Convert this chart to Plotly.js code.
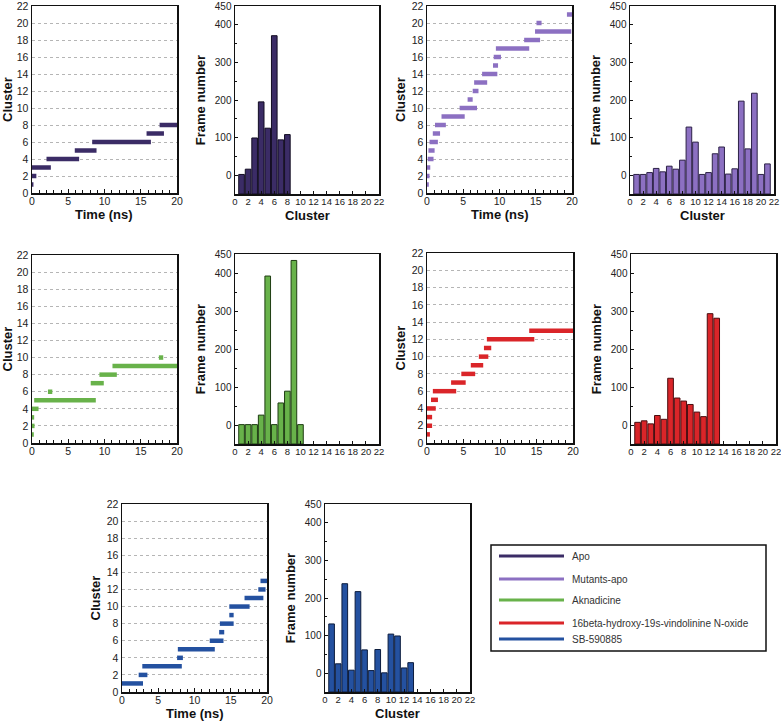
<!DOCTYPE html>
<html>
<head>
<meta charset="utf-8">
<script src="https://cdn.plot.ly/plotly-3.0.1.min.js"></script>
<style>html,body{margin:0;padding:0;background:#fff}#chart{width:781px;height:721px}</style>
</head>
<body>
<div id="chart"></div>
<script>
// ---------- DATA ----------
const seriesNames = ["Apo", "Mutants-apo", "Aknadicine", "16beta-hydroxy-19s-vindolinine N-oxide", "SB-590885"];
const seriesColors = ["#3b2c66", "#8c70c2", "#68b24a", "#da2529", "#2451a0"];
const barEdgeColors = ["#120c22", "#2c2147", "#1e3d12", "#4a0d0f", "#0d1d3e"];

// Apo
const apoCluster = [1, 2, 3, 4, 5, 6, 7, 8];
const apoStart   = [0, 0, 0, 2.0, 5.9, 8.3, 15.8, 17.6];
const apoEnd     = [0.2, 0.6, 2.6, 6.5, 8.9, 16.4, 18.2, 20];
const apoFrames  = [2, 16, 99, 195, 125, 371, 94, 108];

// Mutants-apo
const mutCluster = [1, 2, 3, 4, 5, 6, 7, 8, 9, 10, 11, 12, 13, 14, 15, 16, 17, 18, 19, 20, 21];
const mutStart   = [0, 0, 0, 0.1, 0.2, 0.35, 0.8, 1.1, 2.0, 4.5, 5.6, 6.3, 6.5, 7.6, 9.1, 9.2, 9.5, 13.4, 14.9, 15.1, 19.3];
const mutEnd     = [0.25, 0.35, 0.45, 0.9, 1.05, 1.5, 1.8, 2.6, 5.2, 6.9, 6.3, 7.1, 8.3, 9.7, 9.8, 10.2, 14.1, 15.6, 19.9, 15.8, 20];
const mutFrames  = [2, 2, 7, 18, 9, 24, 16, 40, 128, 88, 2, 7, 57, 75, 3, 17, 197, 70, 218, 2, 30];

// Aknadicine
const akCluster = [1, 2, 3, 4, 5, 6, 7, 8, 9, 10];
const akStart   = [0, 0, 0, 0, 0.3, 2.2, 8.1, 9.3, 11.1, 17.5];
const akEnd     = [0.25, 0.35, 0.3, 0.9, 8.8, 2.8, 9.9, 11.7, 20, 18.1];
const akFrames  = [1, 1, 1, 26, 392, 1, 58, 89, 433, 1];

// 16beta-hydroxy-19s-vindolinine N-oxide
const hvCluster = [1, 2, 3, 4, 5, 6, 7, 8, 9, 10, 11, 12, 13];
const hvStart   = [0, 0, 0, 0, 0.55, 0.8, 3.3, 4.7, 6.0, 7.1, 7.8, 8.2, 14.0];
const hvEnd     = [0.4, 0.7, 0.7, 1.2, 1.5, 4.0, 5.3, 6.6, 7.7, 8.4, 8.8, 14.7, 20];
const hvFrames  = [7, 11, 3, 25, 15, 123, 71, 63, 54, 34, 22, 293, 281];

// SB-590885
const sbCluster = [1, 2, 3, 4, 5, 6, 7, 8, 9, 10, 11, 12, 13];
const sbStart   = [0, 2.3, 2.8, 7.6, 7.7, 12.1, 13.4, 13.5, 14.8, 14.8, 16.9, 18.8, 19.1];
const sbEnd     = [2.9, 3.5, 8.25, 8.4, 12.8, 14.0, 14.1, 15.4, 15.4, 17.6, 19.5, 19.8, 20];
const sbFrames  = [131, 25, 238, 8, 217, 62, 7, 63, 1, 104, 99, 14, 28];

const timeTicks = [0, 5, 10, 15, 20];
const clusterTicks = [0, 2, 4, 6, 8, 10, 12, 14, 16, 18, 20, 22];
const frameTicks = [0, 100, 200, 300, 400, 450];

// ---------- LAYOUT HELPERS ----------
const W = 781, H = 721;
const FONT = "Liberation Sans, Arial, sans-serif";
const HIST_BASE = -50;
function dx(a, b) { return [a / W, b / W]; }
function dy(a, b) { return [1 - b / H, 1 - a / H]; }

// panel pixel boxes [left, right, top, bottom]
const panels = [
  {kind: "t", s: 0, box: [32, 177, 6, 193], xt: true},
  {kind: "h", s: 0, box: [235, 379, 6, 194], xt: true},
  {kind: "t", s: 1, box: [427, 572, 6, 193], xt: true},
  {kind: "h", s: 1, box: [630, 774, 6, 194], xt: true},
  {kind: "t", s: 2, box: [32, 177, 255, 443], xt: false},
  {kind: "h", s: 2, box: [235, 379, 254, 444], xt: false},
  {kind: "t", s: 3, box: [427, 573, 253, 443], xt: false},
  {kind: "h", s: 3, box: [631, 776, 254, 444], xt: false},
  {kind: "t", s: 4, box: [122, 267, 504, 692], xt: true},
  {kind: "h", s: 4, box: [325, 470, 504, 692], xt: true}
];

const seriesData = [
  {cl: apoCluster, st: apoStart, en: apoEnd, fr: apoFrames},
  {cl: mutCluster, st: mutStart, en: mutEnd, fr: mutFrames},
  {cl: akCluster, st: akStart, en: akEnd, fr: akFrames},
  {cl: hvCluster, st: hvStart, en: hvEnd, fr: hvFrames},
  {cl: sbCluster, st: sbStart, en: sbEnd, fr: sbFrames}
];

const traces = [];
const layout = {
  width: W, height: H,
  margin: {l: 0, r: 0, t: 0, b: 0},
  paper_bgcolor: "#fff", plot_bgcolor: "#fff",
  font: {family: FONT, color: "#222", size: 11},
  showlegend: false,
  shapes: [], annotations: []
};

const titleFont = {family: FONT, size: 13, color: "#111", weight: "bold"};
const axisLine = {showline: true, mirror: true, linecolor: "#111", linewidth: 1.5, zeroline: false,
  ticklabeloverflow: "allow", automargin: false};

function xTitle(p, text) {
  layout.annotations.push({xref: "paper", yref: "paper",
    x: (p.box[0] + p.box[1]) / 2 / W, y: 1 - (p.box[3] + 21.5) / H,
    xanchor: "center", yanchor: "middle", showarrow: false, text: text, font: titleFont});
}

panels.forEach((p, i) => {
  const n = i + 1;
  const xa = "xaxis" + (n === 1 ? "" : n), ya = "yaxis" + (n === 1 ? "" : n);
  const xr = "x" + (n === 1 ? "" : n), yr = "y" + (n === 1 ? "" : n);
  const d = seriesData[p.s];
  const col = seriesColors[p.s];
  if (p.kind === "t") {
    const x = [], y = [];
    for (let k = 0; k < d.cl.length; k++) {
      x.push(d.st[k], d.en[k], null);
      y.push(d.cl[k], d.cl[k], null);
    }
    traces.push({type: "scatter", mode: "lines", x: x, y: y, xaxis: xr, yaxis: yr,
      line: {color: col, width: 4.5}, hoverinfo: "skip", name: seriesNames[p.s]});
    layout[xa] = Object.assign({}, axisLine, {
      domain: dx(p.box[0], p.box[1]), anchor: yr, range: [0, 20],
      tickmode: "array", tickvals: timeTicks, ticks: "inside", ticklen: 4, tickcolor: "#111",
      minor: {dtick: 1, ticks: "inside", ticklen: 3, tickcolor: "#111"},
      showgrid: false, tickangle: 0, ticklabelstandoff: -2, tickfont: {size: 10.5, color: "#222"}
    });
    layout[ya] = Object.assign({}, axisLine, {
      domain: dy(p.box[2], p.box[3]), anchor: xr, range: [0, 22],
      tickmode: "array", tickvals: clusterTicks, ticks: "",
      showgrid: true, gridcolor: "#b5b5b5", griddash: "dot", gridwidth: 1,
      tickfont: {size: 10.5, color: "#222"},
      title: {text: "Cluster", font: titleFont, standoff: 3}
    });
    if (p.xt) xTitle(p, "Time (ns)");
  } else {
    traces.push({type: "bar", x: d.cl, y: d.fr.map(v => v - HIST_BASE), base: HIST_BASE,
      xaxis: xr, yaxis: yr, width: 0.86,
      marker: {color: col, line: {color: barEdgeColors[p.s], width: 1}},
      hoverinfo: "skip", name: seriesNames[p.s]});
    layout[xa] = Object.assign({}, axisLine, {
      domain: dx(p.box[0], p.box[1]), anchor: yr, range: [0, 22],
      tickmode: "array", tickvals: clusterTicks, ticks: "inside", ticklen: 3, tickcolor: "#111",
      showgrid: false, tickangle: 0, ticklabelstandoff: -2, tickfont: {size: 9.5, color: "#222"}
    });
    layout[ya] = Object.assign({}, axisLine, {
      domain: dy(p.box[2], p.box[3]), anchor: xr, range: [HIST_BASE, 450],
      tickmode: "array", tickvals: frameTicks, ticks: "inside", ticklen: 3, tickcolor: "#111",
      minor: {tickvals: [50, 150, 250, 350], ticks: "inside", ticklen: 2, tickcolor: "#111"},
      showgrid: false, tickfont: {size: 10, color: "#222"},
      title: {text: "Frame number", font: titleFont, standoff: 6}
    });
    if (p.xt) xTitle(p, "Cluster");
  }
});

// ---------- LEGEND BOX ----------
const lgBox = [491, 766, 545, 651];
layout.shapes.push({type: "rect", xref: "paper", yref: "paper",
  x0: lgBox[0] / W, x1: lgBox[1] / W, y0: 1 - lgBox[3] / H, y1: 1 - lgBox[2] / H,
  line: {color: "#111", width: 1.5}, fillcolor: "rgba(0,0,0,0)"});
const lgRows = [556, 579, 600, 623, 639];
seriesNames.forEach((nm, i) => {
  const yy = 1 - lgRows[i] / H;
  layout.shapes.push({type: "line", xref: "paper", yref: "paper",
    x0: 499 / W, x1: 564 / W, y0: yy, y1: yy, line: {color: seriesColors[i], width: 3}});
  layout.annotations.push({xref: "paper", yref: "paper", x: 570 / W, y: yy,
    xanchor: "left", yanchor: "middle", showarrow: false, text: nm,
    font: {family: FONT, size: 10, color: "#333"}});
});

Plotly.newPlot("chart", traces, layout, {staticPlot: true, displayModeBar: false});
</script>
</body>
</html>
